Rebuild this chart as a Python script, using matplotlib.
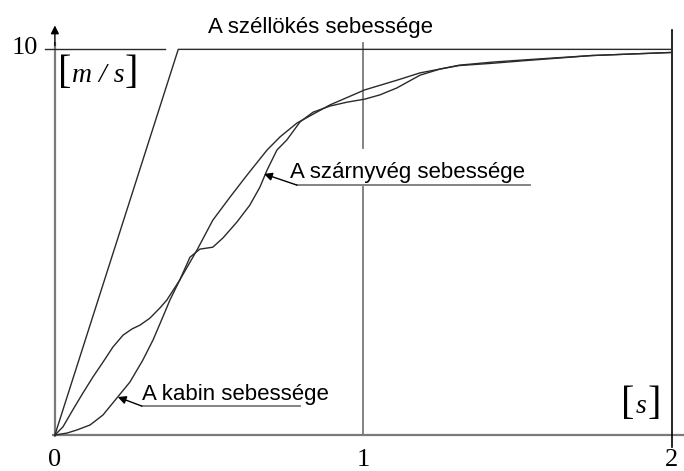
import matplotlib
matplotlib.use('Agg')
import matplotlib.pyplot as plt

# széllökés (gust) sebessége
gust_t = [0.0, 0.4, 2.0]
gust_v = [0.0, 10.0, 10.0]

# szárnyvég (wingtip) sebessége
wing_t = [0.0, 0.026, 0.058, 0.091, 0.123, 0.156, 0.188, 0.221, 0.250, 0.276,
          0.308, 0.340, 0.363, 0.405, 0.438, 0.470, 0.512, 0.545, 0.590, 0.632,
          0.665, 0.688, 0.720, 0.752, 0.795, 0.837, 0.892, 0.947, 1.005, 1.054,
          1.109, 1.184, 1.249, 1.311, 1.420, 1.528, 1.741, 2.0]
wing_v = [0.0, 0.21, 0.65, 1.09, 1.50, 1.89, 2.28, 2.59, 2.75, 2.85,
          3.03, 3.29, 3.50, 4.02, 4.61, 4.82, 4.87, 5.11, 5.52, 5.96,
          6.43, 6.87, 7.39, 7.65, 8.12, 8.37, 8.53, 8.63, 8.71, 8.82,
          9.00, 9.33, 9.49, 9.58, 9.64, 9.71, 9.84, 9.92]

# kabin sebessége
cab_t = [0.0, 0.039, 0.071, 0.114, 0.156, 0.201, 0.243, 0.285, 0.318, 0.350,
         0.373, 0.405, 0.461, 0.512, 0.568, 0.623, 0.688, 0.730, 0.785, 0.892,
         1.005, 1.109, 1.184, 1.249, 1.311, 1.420, 1.528, 1.741, 2.0]
cab_v = [0.0, 0.05, 0.13, 0.26, 0.52, 0.96, 1.37, 1.94, 2.46, 3.06,
         3.50, 4.02, 4.80, 5.57, 6.17, 6.74, 7.39, 7.73, 8.09, 8.56,
         8.95, 9.20, 9.39, 9.49, 9.59, 9.67, 9.73, 9.84, 9.92]

x_ticks = [0, 1, 2]
x_tick_labels = ['0', '1', '2']
y_top = 10
y_top_label = '10'

fig = plt.figure(figsize=(6.84, 4.71), dpi=100)
ax = fig.add_axes([0, 0, 1, 1])
ax.set_xlim(-0.178, 2.040)
ax.set_ylim(-0.933, 11.28)
ax.axis('off')

axis_col = '#7a7a7a'
line_col = '#2a2a2a'

# tengelyek
ax.plot([-0.01, 2.04], [0, 0], color=axis_col, lw=1.6, solid_capstyle='butt')
ax.plot([0, 0], [-0.06, 10.2], color=axis_col, lw=1.6, solid_capstyle='butt')
ax.annotate('', xy=(0, 10.62), xytext=(0, 10.1),
            arrowprops=dict(arrowstyle='-|>', color='black', lw=1.0,
                            mutation_scale=12, shrinkA=0, shrinkB=0))
ax.plot([-0.032, 0.357], [y_top, y_top], color=line_col, lw=1.0)

# függőleges segédvonalak
ax.plot([1, 1], [10.16, 7.44], color=axis_col, lw=1.3)
ax.plot([1, 1], [6.43, 0], color=axis_col, lw=1.3)
ax.plot([2, 2], [10.5, -0.31], color='black', lw=1.2)

# görbék
ax.plot(gust_t, gust_v, color=line_col, lw=1.0)
ax.plot(wing_t, wing_v, color=line_col, lw=1.0)
ax.plot(cab_t, cab_v, color=line_col, lw=1.0)

# tengelyfeliratok
serif = 'Liberation Serif'
for t, lab in zip(x_ticks, x_tick_labels):
    ax.text(t, -0.64, lab, ha='center', va='center', fontsize=19, family=serif)
ax.text(-0.055, 10.03, y_top_label, ha='right', va='center', fontsize=19, family=serif)


def unit_label(x_open, x_mid, x_close, y_mid, y_base, inner):
    ax.text(x_open, y_mid, '[', ha='center', va='center', fontsize=29, family=serif)
    ax.text(x_mid, y_base, inner, ha='center', va='baseline', fontsize=20,
            family=serif, style='italic')
    ax.text(x_close, y_mid, ']', ha='center', va='center', fontsize=29, family=serif)


unit_label(0.031, 0.140, 0.248, 9.38, 9.15, 'm / s')
unit_label(1.858, 1.900, 1.944, 0.80, 0.57, 's')

# görbefeliratok
sans = 'Liberation Sans'
ax.text(0.496, 10.42, 'A széllökés sebessége', ha='left', va='baseline',
        fontsize=16, family=sans)
ax.text(0.762, 6.66, 'A szárnyvég sebessége', ha='left', va='baseline',
        fontsize=16, family=sans)
ax.text(0.282, 0.91, 'A kabin sebessége', ha='left', va='baseline',
        fontsize=16, family=sans)

ax.plot([0.785, 1.540], [6.48, 6.48], color=axis_col, lw=1.3)
ax.plot([0.282, 0.795], [0.75, 0.75], color=axis_col, lw=1.3)
arrow = dict(arrowstyle='-|>', color='black', lw=1.0, mutation_scale=12,
             shrinkA=0, shrinkB=0)
ax.annotate('', xy=(0.678, 6.77), xytext=(0.785, 6.48), arrowprops=arrow)
ax.annotate('', xy=(0.204, 0.985), xytext=(0.282, 0.75), arrowprops=arrow)

fig.savefig('out.png', dpi=100)
